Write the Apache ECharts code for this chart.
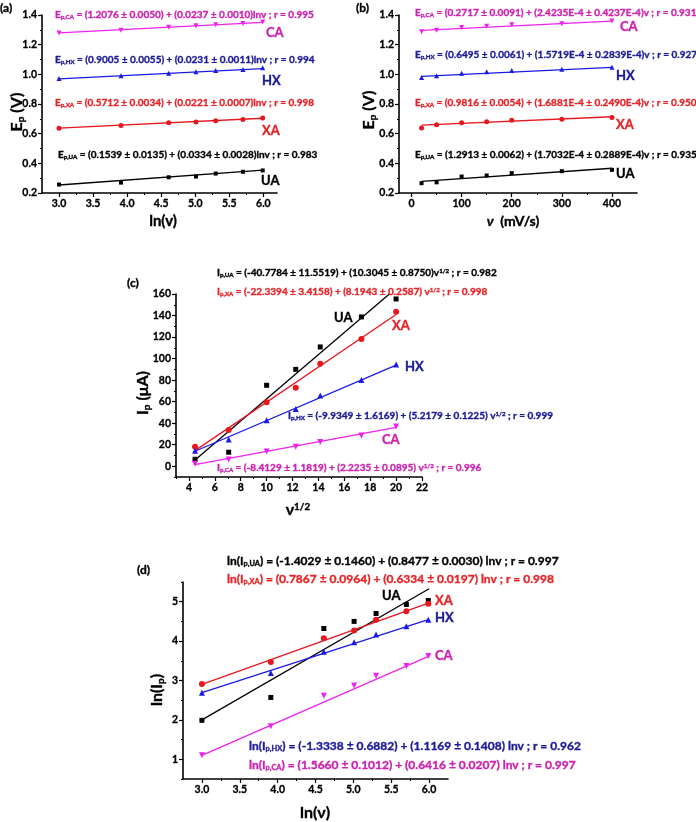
<!DOCTYPE html>
<html>
<head>
<meta charset="utf-8">
<script src="https://cdn.jsdelivr.net/npm/echarts@6/dist/echarts.min.js"></script>
<style>
html, body { margin: 0; padding: 0; background: #fff; }
#chart { width: 696px; height: 822px; }
</style>
</head>
<body>
<div id="chart"></div>
<script>
// x values shared by the panels
var lnv = [3.00, 3.91, 4.61, 5.01, 5.30, 5.70, 5.99];
var scanRate = [20, 50, 100, 150, 200, 300, 400];
var sqrtv = [4.47, 7.07, 10, 12.25, 14.14, 17.32, 20];

// (a) Ep vs ln(v)
var aUA = [0.257, 0.270, 0.306, 0.311, 0.331, 0.343, 0.352];
var aXA = [0.637, 0.655, 0.673, 0.678, 0.687, 0.696, 0.705];
var aHX = [0.972, 0.990, 1.008, 1.017, 1.026, 1.033, 1.044];
var aCA = [1.278, 1.298, 1.318, 1.327, 1.334, 1.343, 1.352];
var aFitX = [3.00, 5.99];
var aFitUA = [0.254, 0.354];
var aFitXA = [0.637, 0.704];
var aFitHX = [0.970, 1.039];
var aFitCA = [1.279, 1.350];

// (b) Ep vs v
var bUA = [0.266, 0.272, 0.311, 0.318, 0.334, 0.347, 0.356];
var bXA = [0.639, 0.660, 0.673, 0.680, 0.691, 0.698, 0.709];
var bHX = [0.979, 0.990, 1.008, 1.017, 1.026, 1.035, 1.047];
var bCA = [1.287, 1.298, 1.316, 1.325, 1.334, 1.341, 1.359];
var bFitX = [20, 400];
var bFitUA = [0.279, 0.367];
var bFitXA = [0.657, 0.714];
var bFitHX = [0.986, 1.047];
var bFitCA = [1.296, 1.359];

// (c) Ip vs v^1/2
var cUA = [6.5, 13, 75.2, 90, 110.8, 138.7, 155.4];
var cXA = [18, 33.7, 59.4, 73, 95.3, 118.2, 143.6];
var cHX = [14.5, 24.8, 42.7, 53.2, 65.6, 80.2, 94.4];
var cCA = [2.2, 6.2, 13.6, 18, 22.6, 28.5, 36.8];
var cFitUA = [[4.47, 5.9], [19.48, 160]];
var cFitXA = [[4.47, 14.5], [20, 141]];
var cFitHX = [[4.47, 13.9], [20, 94]];
var cFitCA = [[4.47, 1.5], [20, 36.2]];

// (d) ln(Ip) vs ln(v)
var dUA = [1.99, 2.57, 4.32, 4.50, 4.70, 4.93, 5.03];
var dXA = [2.91, 3.47, 4.07, 4.27, 4.54, 4.76, 4.95];
var dHX = [2.69, 3.19, 3.73, 3.97, 4.17, 4.38, 4.54];
var dCA = [1.10, 1.84, 2.61, 2.87, 3.12, 3.37, 3.62];
var dFitX = [3.0, 6.0];
var dFitUA = [2.00, 5.33];
var dFitXA = [2.90, 4.97];
var dFitHX = [2.69, 4.55];
var dFitCA = [1.10, 3.62];

// tick values
var ticksLnv = [3.0, 3.5, 4.0, 4.5, 5.0, 5.5, 6.0];
var minorLnv = [3.25, 3.75, 4.25, 4.75, 5.25, 5.75];
var ticksEp = [0.2, 0.4, 0.6, 0.8, 1.0, 1.2, 1.4];
var minorEp = [0.3, 0.5, 0.7, 0.9, 1.1, 1.3];
var ticksRate = [0, 100, 200, 300, 400];
var minorRate = [50, 150, 250, 350];
var ticksSqrt = [4, 6, 8, 10, 12, 14, 16, 18, 20, 22];
var minorSqrt = [3, 5, 7, 9, 11, 13, 15, 17, 19, 21];
var ticksIp = [0, 20, 40, 60, 80, 100, 120, 140, 160];
var minorIp = [-10, 10, 30, 50, 70, 90, 110, 130, 150];
var ticksLnIp = [1, 2, 3, 4, 5];
var minorLnIp = [0.5, 1.5, 2.5, 3.5, 4.5, 5.5];

var FONT = '"Liberation Sans Narrow", Lato, sans-serif';
var FONT2 = 'Lato, "Open Sans", sans-serif';
var C = {
    UA: { line: '#000000', text: '#000000', sym: 'rect' },
    XA: { line: '#e8161e', text: '#e5252a', sym: 'circle' },
    HX: { line: '#1a1ae6', text: '#1b1b96', sym: 'triangle' },
    CA: { line: '#ee22ee', text: '#cc22b0', sym: 'path://M0,0L10,0L5,9Z' }
};

var grids = [
    { left: 42, top: 15, width: 235, height: 178 },
    { left: 399, top: 15, width: 238, height: 178 },
    { left: 176, top: 294, width: 246, height: 183 },
    { left: 183, top: 582, width: 265, height: 197 }
];
grids.forEach(function (g) { g.outerBoundsMode = 'none'; g.containLabel = false; });

var xAxes = [], yAxes = [];

function axisPair(list, grid, min, max, ticks, minor, fmt, pos) {
    var idx = list.length;
    list.push({
        type: 'value', gridIndex: grid, min: min, max: max, position: pos,
        splitLine: { show: false },
        axisLine: { show: true, onZero: false, lineStyle: { color: '#000', width: 1.6 } },
        axisTick: { show: true, customValues: ticks, length: 4, lineStyle: { color: '#000', width: 1.2 } },
        axisLabel: {
            customValues: ticks, color: '#000', fontSize: 10.5, fontWeight: 'bold',
            fontFamily: FONT2, margin: 5, formatter: fmt,
            textBorderColor: '#000', textBorderWidth: 0.3
        }
    });
    list.push({
        type: 'value', gridIndex: grid, min: min, max: max, position: pos,
        splitLine: { show: false },
        axisLine: { show: false, onZero: false },
        axisTick: { show: true, customValues: minor, length: 2, lineStyle: { color: '#000', width: 1 } },
        axisLabel: { show: false }
    });
    return idx;
}

function f1(v) { return v.toFixed(1); }
function f0(v) { return String(Math.round(v)); }

var ax = [
    [axisPair(xAxes, 0, 2.75, 6.2, ticksLnv, minorLnv, f1, 'bottom'),
     axisPair(yAxes, 0, 0.2, 1.4, ticksEp, minorEp, f1, 'left')],
    [axisPair(xAxes, 1, -25, 450, ticksRate, minorRate, f0, 'bottom'),
     axisPair(yAxes, 1, 0.2, 1.4, ticksEp, minorEp, f1, 'left')],
    [axisPair(xAxes, 2, 3, 22, ticksSqrt, minorSqrt, f0, 'bottom'),
     axisPair(yAxes, 2, -10, 160, ticksIp, minorIp, f0, 'left')],
    [axisPair(xAxes, 3, 2.75, 6.25, ticksLnv, minorLnv, f1, 'bottom'),
     axisPair(yAxes, 3, 0.5, 5.5, ticksLnIp, minorLnIp, f0, 'left')]
];

function zip(xs, ys) { return xs.map(function (x, i) { return [x, ys[i]]; }); }

var series = [];
function addPanel(p, xs, pts, fits, symSize) {
    ['UA', 'XA', 'HX', 'CA'].forEach(function (k) {
        series.push({
            type: 'line', xAxisIndex: ax[p][0], yAxisIndex: ax[p][1],
            data: fits[k], symbol: 'none', clip: true,
            lineStyle: { color: C[k].line, width: 1.3 }, z: 2
        });
        series.push({
            type: 'scatter', xAxisIndex: ax[p][0], yAxisIndex: ax[p][1],
            data: zip(xs, pts[k]), symbol: C[k].sym,
            symbolSize: k === 'UA' ? symSize - 1 : symSize,
            itemStyle: { color: C[k].line, opacity: 1 }, z: 3
        });
    });
}
addPanel(0, lnv, { UA: aUA, XA: aXA, HX: aHX, CA: aCA },
    { UA: zip(aFitX, aFitUA), XA: zip(aFitX, aFitXA), HX: zip(aFitX, aFitHX), CA: zip(aFitX, aFitCA) }, 5);
addPanel(1, scanRate, { UA: bUA, XA: bXA, HX: bHX, CA: bCA },
    { UA: zip(bFitX, bFitUA), XA: zip(bFitX, bFitXA), HX: zip(bFitX, bFitHX), CA: zip(bFitX, bFitCA) }, 5);
addPanel(2, sqrtv, { UA: cUA, XA: cXA, HX: cHX, CA: cCA },
    { UA: cFitUA, XA: cFitXA, HX: cFitHX, CA: cFitCA }, 6);
addPanel(3, lnv, { UA: dUA, XA: dXA, HX: dHX, CA: dCA },
    { UA: zip(dFitX, dFitUA), XA: zip(dFitX, dFitXA), HX: zip(dFitX, dFitHX), CA: zip(dFitX, dFitCA) }, 6);

// rich text helpers
function rich(size, fam, color) {
    return {
        s: { fontSize: size * 0.62, fontWeight: 'bold', fontFamily: fam, padding: [size * 0.45, 0, 0, 0] },
        u: { fontSize: size * 0.62, fontWeight: 'bold', fontFamily: fam, padding: [0, 0, size * 0.45, 0] },
        i: { fontSize: size, fontWeight: 'bold', fontStyle: 'italic', fontFamily: fam }
    };
}
function txt(x, y, str, color, size, extra, fam) {
    fam = fam || FONT;
    var el = {
        type: 'text', x: x, y: y, z: 10,
        style: {
            text: str, fill: color, fontSize: size, fontWeight: 'bold', fontFamily: fam,
            stroke: color, lineWidth: 0.35,
            textVerticalAlign: 'middle', verticalAlign: 'middle', rich: rich(size, fam, color)
        }
    };
    if (extra) {
        for (var k in extra) {
            if (k === 'style') { for (var s in extra.style) el.style[s] = extra.style[s]; }
            else el[k] = extra[k];
        }
    }
    return el;
}
function yName(x, y, str, size) {
    return txt(x, y, str, '#000', size, { rotation: Math.PI / 2, style: { align: 'center' } }, FONT2);
}
function xName(x, y, str, size) {
    return txt(x, y, str, '#000', size, { style: { align: 'center' } }, FONT2);
}
function lab(x, y, str, color) {
    return txt(x, y, str, color, 13, null, FONT2);
}

var EQ = 10;
var EQD = 12;
var graphic = [
    // panel labels
    txt(0, 8, '(a)', '#000', 12, null, FONT2),
    txt(356, 8, '(b)', '#000', 12, null, FONT2),
    txt(127, 283, '(c)', '#000', 12, null, FONT2),
    txt(137, 570, '(d)', '#000', 12, null, FONT2),

    // (a)
    txt(55, 15, 'E{s|p,CA} = (1.2076 ± 0.0050) + (0.0237 ± 0.0010)lnv ; r = 0.995', C.CA.text, EQ),
    txt(55, 60, 'E{s|p,HX} = (0.9005 ± 0.0055) + (0.0231 ± 0.0011)lnv ; r = 0.994', C.HX.text, EQ),
    txt(55, 103, 'E{s|p,XA} = (0.5712 ± 0.0034) + (0.0221 ± 0.0007)lnv ; r = 0.998', C.XA.text, EQ),
    txt(58, 155, 'E{s|p,UA} = (0.1539 ± 0.0135) + (0.0334 ± 0.0028)lnv ; r = 0.983', C.UA.text, EQ),
    lab(266, 33, 'CA', C.CA.text),
    lab(262, 81, 'HX', C.HX.text),
    lab(262, 131, 'XA', C.XA.text),
    lab(261, 181, 'UA', C.UA.text),
    yName(17, 112, 'E{s|p} (V)', 16),
    xName(163, 221, 'ln(v)', 15),

    // (b)
    txt(415, 13, 'E{s|p,CA} = (0.2717 ± 0.0091) + (2.4235E-4 ± 0.4237E-4)v ; r = 0.931', C.CA.text, EQ),
    txt(415, 55, 'E{s|p,HX} = (0.6495 ± 0.0061) + (1.5719E-4 ± 0.2839E-4)v ; r = 0.927', C.HX.text, EQ),
    txt(415, 103, 'E{s|p,XA} = (0.9816 ± 0.0054) + (1.6881E-4 ± 0.2490E-4)v ; r = 0.950', C.XA.text, EQ),
    txt(415, 155, 'E{s|p,UA} = (1.2913 ± 0.0062) + (1.7032E-4 ± 0.2889E-4)v ; r = 0.935', C.UA.text, EQ),
    lab(620, 27, 'CA', C.CA.text),
    lab(616, 76, 'HX', C.HX.text),
    lab(616, 125, 'XA', C.XA.text),
    lab(616, 174, 'UA', C.UA.text),
    yName(369, 110, 'E{s|p} (V)', 16),
    xName(513, 221, '{i|ν}  (mV/s)', 14),

    // (c)
    txt(217, 273, 'I{s|p,UA} = (-40.7784 ± 11.5519) + (10.3045 ± 0.8750)v{u|1/2} ; r = 0.982', C.UA.text, EQ),
    txt(217, 292, 'I{s|p,XA} = (-22.3394 ± 3.4158) + (8.1943 ± 0.2587) v{u|1/2} ; r = 0.998', C.XA.text, EQ),
    txt(288, 416, 'I{s|p,HX} = (-9.9349 ± 1.6169) + (5.2179 ± 0.1225) v{u|1/2} ; r = 0.999', C.HX.text, EQ),
    txt(217, 468, 'I{s|p,CA} = (-8.4129 ± 1.1819) + (2.2235 ± 0.0895) v{u|1/2} ; r = 0.996', C.CA.text, EQ),
    lab(334, 318, 'UA', C.UA.text),
    lab(392, 326, 'XA', C.XA.text),
    lab(405, 367, 'HX', C.HX.text),
    lab(382, 440, 'CA', C.CA.text),
    yName(143, 393, 'I{s|p} (μA)', 16),
    xName(298, 510, 'ν{u|1/2}', 16),

    // (d)
    txt(227, 561, 'ln(I{s|p,UA}) = (-1.4029 ± 0.1460) + (0.8477 ± 0.0030) lnv ; r = 0.997', C.UA.text, EQD),
    txt(227, 579, 'ln(I{s|p,XA}) = (0.7867 ± 0.0964) + (0.6334 ± 0.0197) lnv ; r = 0.998', C.XA.text, EQD),
    txt(249, 746, 'ln(I{s|p,HX}) = (-1.3338 ± 0.6882) + (1.1169 ± 0.1408) lnv ; r = 0.962', C.HX.text, EQD),
    txt(249, 765, 'ln(I{s|p,CA}) = (1.5660 ± 0.1012) + (0.6416 ± 0.0207) lnv ; r = 0.997', C.CA.text, EQD),
    lab(382, 596, 'UA', C.UA.text),
    lab(435, 601, 'XA', C.XA.text),
    lab(435, 618, 'HX', C.HX.text),
    lab(435, 656, 'CA', C.CA.text),
    yName(157, 690, 'ln(I{s|p})', 16),
    xName(315, 813, 'ln(ν)', 16)
];

var myChart = echarts.init(document.getElementById('chart'), null, { renderer: 'canvas' });
myChart.setOption({
    animation: false,
    backgroundColor: '#fff',
    grid: grids,
    xAxis: xAxes,
    yAxis: yAxes,
    series: series,
    graphic: graphic
});
</script>
</body>
</html>
